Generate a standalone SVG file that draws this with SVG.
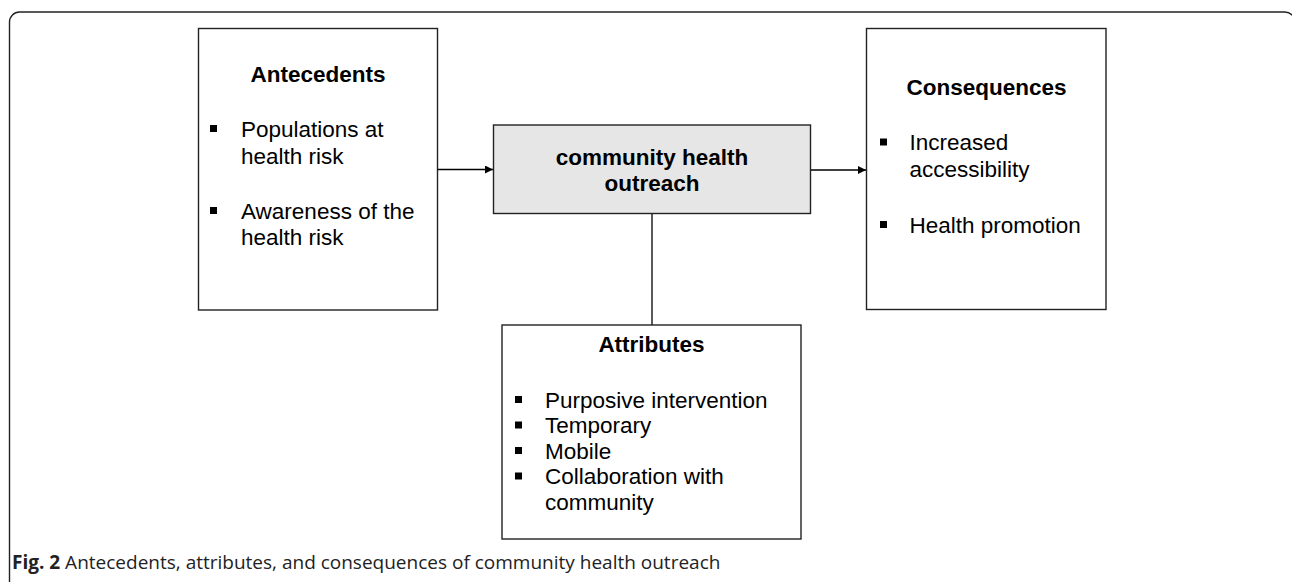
<svg xmlns="http://www.w3.org/2000/svg" width="1292" height="582" viewBox="0 0 1292 582">
<style>
.box{fill:#fff;stroke:#222;stroke-width:1.4}
.core{fill:#e6e6e6;stroke:#222;stroke-width:1.4}
.t{font-family:"Liberation Sans",Arial,sans-serif;font-size:22.5px;fill:#000}
.b{font-weight:bold}
.bul{fill:#000}
.edge{stroke:#000;stroke-width:1.3;fill:none}
.cap{font-family:"Open Sans","Noto Sans",sans-serif;font-size:19px;fill:#222}
</style>
<defs>
<marker id="arr" viewBox="0 0 10 10" refX="10" refY="5" markerWidth="8" markerHeight="8" markerUnits="userSpaceOnUse" orient="auto">
<path d="M0,0 L10,5 L0,10 z" fill="#000"/>
</marker>
</defs>
<rect x="9.5" y="12" width="1285.5" height="620" rx="10" fill="none" stroke="#222" stroke-width="1.4"/>
<g id="connectors">
<line class="edge" x1="438" y1="169.5" x2="493" y2="169.5" marker-end="url(#arr)"/>
<line class="edge" x1="811" y1="170" x2="866" y2="170" marker-end="url(#arr)"/>
<line class="edge" x1="652" y1="213.5" x2="652" y2="325"/>
</g>
<g id="antecedents">
<rect class="box" x="198.5" y="28.5" width="239" height="281.5"/>
<text class="t b" x="318" y="82" text-anchor="middle">Antecedents</text>
<rect class="bul" x="210" y="125" width="7" height="7"/>
<text class="t" x="241" y="136.5">Populations at</text>
<text class="t" x="241" y="163.5">health risk</text>
<rect class="bul" x="210" y="207" width="7" height="7"/>
<text class="t" x="241" y="218.5">Awareness of the</text>
<text class="t" x="241" y="245">health risk</text>
</g>
<g id="outreach">
<rect class="core" x="493.5" y="125" width="317" height="88.5"/>
<text class="t b" x="652" y="164.5" text-anchor="middle">community health</text>
<text class="t b" x="652" y="191" text-anchor="middle">outreach</text>
</g>
<g id="consequences">
<rect class="box" x="866.5" y="28.5" width="239.5" height="281"/>
<text class="t b" x="986.5" y="95" text-anchor="middle">Consequences</text>
<rect class="bul" x="880" y="138.5" width="7" height="7"/>
<text class="t" x="909.5" y="150">Increased</text>
<text class="t" x="909.5" y="176.5">accessibility</text>
<rect class="bul" x="880" y="221" width="7" height="7"/>
<text class="t" x="909.5" y="232.5">Health promotion</text>
</g>
<g id="attributes">
<rect class="box" x="502" y="325" width="299" height="214"/>
<text class="t b" x="651.5" y="351.5" text-anchor="middle">Attributes</text>
<rect class="bul" x="515" y="396" width="7" height="7"/>
<text class="t" x="545" y="407.5">Purposive intervention</text>
<rect class="bul" x="515" y="421.5" width="7" height="7"/>
<text class="t" x="545" y="433">Temporary</text>
<rect class="bul" x="515" y="447" width="7" height="7"/>
<text class="t" x="545" y="458.5">Mobile</text>
<rect class="bul" x="515" y="472.5" width="7" height="7"/>
<text class="t" x="545" y="484">Collaboration with</text>
<text class="t" x="545" y="509.5">community</text>
</g>
<text class="cap" x="12" y="569"><tspan font-weight="bold">Fig. 2</tspan> Antecedents, attributes, and consequences of community health outreach</text>
</svg>
